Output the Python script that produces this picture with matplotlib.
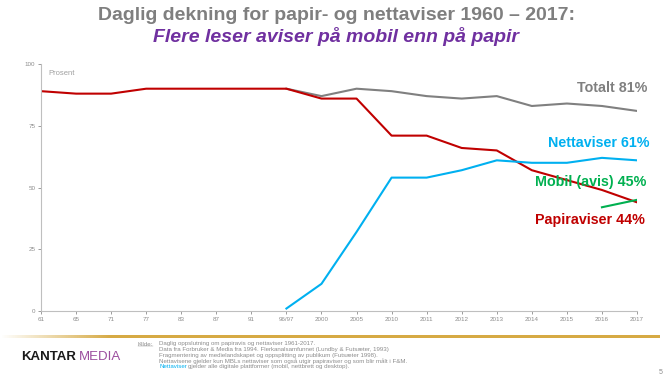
import numpy as np
import matplotlib.pyplot as plt

# Data
years = ['61', '65', '71', '77', '83', '87', '91', '96/97', '2000', '2005',
         '2010', '2011', '2012', '2013', '2014', '2015', '2016', '2017']
papir = [89, 88, 88, 90, 90, 90, 90, 90, 86, 86, 71, 71, 66, 65, 57, 53, 49, 44]
totalt = [90, 87, 90, 89, 87, 86, 87, 83, 84, 83, 81]      # from 96/97
netta = [1, 11, 32, 54, 54, 57, 61, 60, 60, 62, 61]        # from 96/97
mobil = [42, 45]                                           # from 2016
yticks = [0, 25, 50, 75, 100]

RED = '#C00000'
GREY = '#808080'
BLUE = '#00B0F0'
GREEN = '#00B050'
PURPLE = '#7030A0'
SRC = '#8c8c8c'

plt.rcParams['font.family'] = ['Liberation Sans', 'DejaVu Sans']

fig = plt.figure(figsize=(6.7, 3.78), dpi=100)
ax = fig.add_axes([41/670, 1-311/378, 596/670, 247/378])

x = np.arange(len(years))
i97 = years.index('96/97')
i16 = years.index('2016')

ax.plot(x[i97:], totalt, color=GREY, lw=1.5, solid_joinstyle='round')
ax.plot(x, papir, color=RED, lw=1.5, solid_joinstyle='round')
ax.plot(x[i97:], netta, color=BLUE, lw=1.5, solid_joinstyle='round')
ax.plot(x[i16:], mobil, color=GREEN, lw=1.5, solid_joinstyle='round')

ax.set_xlim(0, len(years) - 1)
ax.set_ylim(0, 100)
ax.set_xticks(x)
ax.set_xticklabels(years)
ax.set_yticks(yticks)
ax.tick_params(labelsize=4.5, colors='#8c8c8c', length=2, width=0.6, pad=2)
for s in ['top', 'right']:
    ax.spines[s].set_visible(False)
for s in ['left', 'bottom']:
    ax.spines[s].set_color('#bfbfbf')
    ax.spines[s].set_linewidth(0.8)

ax.text(0.012, 0.96, 'Prosent', transform=ax.transAxes, fontsize=5.5,
        color='#a0a0a0', va='center')

# Series labels
lab = dict(ha='right', va='center', fontsize=10.3, fontweight='bold')
fig.text(647/670, 1-88/378, 'Totalt 81%', color=GREY, **lab)
fig.text(650/670, 1-143/378, 'Nettaviser 61%', color=BLUE, **lab)
fig.text(646/670, 1-182/378, 'Mobil (avis) 45%', color=GREEN, **lab)
fig.text(645/670, 1-220/378, 'Papiraviser 44%', color=RED, **lab)

# Titles
fig.text(336/670, 1-15/378, 'Daglig dekning for papir- og nettaviser 1960 \u2013 2017:',
         ha='center', va='center', fontsize=14, fontweight='bold', color='#7f7f7f')
fig.text(336/670, 1-37/378, 'Flere leser aviser på mobil enn på papir',
         ha='center', va='center', fontsize=14, fontweight='bold',
         style='italic', color=PURPLE)

# Gold rule with fade on the left
gax = fig.add_axes([0, 1-337.5/378, 660/670, 2.2/378])
grad = np.ones((1, 300, 4))
grad[..., :3] = np.array([0.84, 0.67, 0.27])
grad[..., 3] = np.clip(np.linspace(0, 1, 300) * 6, 0, 1)
gax.imshow(grad, aspect='auto', extent=[0, 1, 0, 1])
gax.axis('off')

renderer = fig.canvas.get_renderer()


def right_edge(t):
    bb = t.get_window_extent(renderer)
    return bb.x1 / fig.bbox.width


# Logo
k = fig.text(21/670, 1-357/378, 'KANTAR', fontsize=9.5, fontweight='bold',
             color='#1a1a1a', va='center')
fig.text(right_edge(k) + 3/670, 1-357/378, 'MEDIA', fontsize=9.5,
         color='#9B4D9E', va='center')

# Source
src = ['Daglig oppslutning om papiravis og nettaviser 1961-2017.',
       'Data fra Forbruker & Media fra 1994. Flerkanalsamfunnet (Lundby & Futsæter, 1993)',
       'Fragmentering av medielandskapet og oppsplitting av publikum (Futsæter 1998).',
       'Nettavisene gjelder kun MBLs nettaviser som også utgir papiraviser og som blir målt i F&M.']
fs = 4.4
kl = fig.text(138/670, 1-344/378, 'Kilde:', fontsize=fs, color=SRC, va='center')
kl.set_text('Kilde:')
bb = kl.get_window_extent(renderer)
fig.add_artist(plt.Line2D([bb.x0 / 670, bb.x1 / 670], [(bb.y0 + 0.5) / 378] * 2,
                          color=SRC, lw=0.3))
for j, line in enumerate(src):
    fig.text(159/670, 1-(344 + 5.6*j)/378, line, fontsize=fs, color=SRC, va='center')
n = fig.text(159/670, 1-366.5/378, 'Nettaviser', fontsize=fs, color=BLUE, va='center')
fig.text(right_edge(n) + 1.5/670, 1-366.5/378,
         'gjelder alle digitale plattformer (mobil, nettbrett og desktop).',
         fontsize=fs, color=SRC, va='center')
fig.text(661/670, 1-372/378, '5', fontsize=5, color=SRC, va='center', ha='center')

fig.savefig('out.png', dpi=100)
